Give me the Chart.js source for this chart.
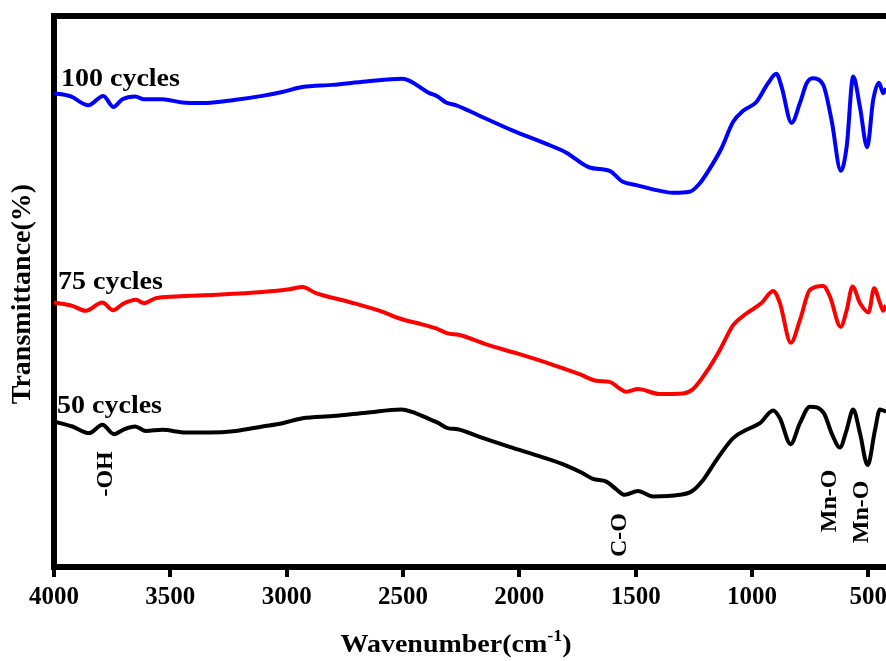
<!DOCTYPE html>
<html>
<head>
<meta charset="utf-8">
<script src="https://cdn.jsdelivr.net/npm/chart.js@4.4.0/dist/chart.umd.min.js"></script>
<style>
    body { margin: 0; background: #fff; }
    #wrap { width: 886px; height: 661px; position: relative; }
</style>
</head>
<body>
<div id="wrap"><canvas id="ftirChart"></canvas></div>
<script>
// wavenumber (cm-1) and transmittance readings, one pair of arrays per sample
const wn100 = [4000, 3928, 3852, 3788, 3745, 3706, 3651, 3613, 3535, 3449, 3363, 3218, 3105, 3019, 2933, 2804, 2659, 2503, 2386, 2351, 2315, 2271, 2171, 2028, 1884, 1798, 1698, 1612, 1555, 1497, 1411, 1339, 1268, 1225, 1167, 1131, 1081, 1038, 981, 931, 895, 873, 830, 794, 765, 740, 694, 658, 618, 593, 565, 536, 505, 479, 454, 436, 424];
const t100 = [86.0, 85.4, 83.8, 85.5, 83.5, 84.9, 85.4, 84.9, 84.9, 84.3, 84.2, 84.8, 85.5, 86.2, 87.1, 87.5, 88.1, 88.6, 86.0, 85.4, 84.3, 83.8, 81.9, 79.2, 76.8, 75.2, 72.5, 71.9, 69.9, 69.3, 68.4, 67.9, 68.1, 69.6, 73.3, 76.0, 80.8, 82.8, 84.4, 87.8, 89.5, 87.2, 80.6, 84.2, 87.8, 88.7, 87.5, 81.1, 71.9, 76.3, 89.0, 83.5, 76.2, 84.8, 87.9, 86.0, 86.9];

const wn75 = [4000, 3921, 3864, 3792, 3746, 3706, 3648, 3613, 3562, 3476, 3304, 3104, 2989, 2932, 2874, 2731, 2587, 2515, 2415, 2358, 2308, 2257, 2142, 2013, 1856, 1741, 1669, 1612, 1569, 1540, 1490, 1397, 1296, 1253, 1196, 1138, 1081, 1024, 959, 909, 880, 833, 794, 751, 694, 665, 619, 593, 568, 536, 499, 475, 450, 436, 424];
const t75 = [48.0, 47.4, 46.5, 48.0, 46.6, 47.7, 48.5, 47.9, 48.8, 49.1, 49.4, 49.9, 50.4, 50.8, 49.7, 48.1, 46.3, 45.1, 44.0, 43.3, 42.4, 42.1, 40.4, 38.8, 36.7, 35.0, 33.8, 33.6, 32.4, 31.8, 32.3, 31.4, 31.5, 32.3, 35.4, 39.4, 43.9, 46.0, 47.9, 50.1, 47.9, 40.7, 44.8, 50.3, 51.0, 49.1, 43.6, 46.6, 50.9, 47.9, 46.2, 50.6, 47.9, 46.5, 47.5];

const wn50 = [4000, 3921, 3849, 3792, 3742, 3699, 3651, 3605, 3534, 3433, 3333, 3218, 3104, 3018, 2932, 2802, 2659, 2508, 2444, 2379, 2351, 2308, 2265, 2171, 2042, 1899, 1798, 1727, 1684, 1626, 1583, 1547, 1490, 1425, 1311, 1260, 1210, 1153, 1081, 1024, 966, 909, 880, 834, 794, 751, 691, 658, 622, 593, 565, 536, 503, 471, 450, 424];
const t50 = [26.4, 25.5, 24.3, 25.8, 24.1, 25.0, 25.5, 24.7, 24.9, 24.4, 24.4, 24.7, 25.5, 26.1, 27.0, 27.4, 28.0, 28.6, 27.9, 26.7, 26.2, 25.2, 25.0, 23.6, 21.8, 19.9, 18.4, 17.0, 16.0, 15.5, 14.1, 13.1, 13.8, 12.8, 13.1, 13.7, 15.8, 19.4, 23.4, 24.9, 26.1, 28.4, 27.0, 22.3, 26.1, 29.1, 27.9, 24.3, 21.7, 24.9, 28.6, 24.3, 18.5, 24.9, 28.6, 28.2];

// axis ticks
const xTicks = [4000, 3500, 3000, 2500, 2000, 1500, 1000, 500];

// sample names and where they sit (wavenumber, transmittance at text baseline)
const seriesNames = ['100 cycles', '75 cycles', '50 cycles'];
const seriesNameWn = [3970, 3983, 3987];
const seriesNameT = [87.3, 50.5, 27.9];

// band assignments (vertical text centre)
const bandNames = ['-OH', 'C-O', 'Mn-O', 'Mn-O'];
const bandWn = [3776, 1569, 665, 527];
const bandT = [16.9, 5.8, 12.0, 10.0];

const SERIF = "'Liberation Serif', 'Times New Roman', serif";
const STRETCH = 1.12;

function toPoints(xs, ys) {
    return xs.map((x, i) => ({ x: x, y: ys[i] }));
}

// horizontal text, slightly widened like the source figure
function wideText(ctx, text, x, y, font) {
    ctx.save();
    ctx.translate(x, y);
    ctx.scale(STRETCH, 1);
    ctx.font = font;
    ctx.textAlign = 'left';
    ctx.textBaseline = 'alphabetic';
    ctx.fillText(text, 0, 0);
    ctx.restore();
}

function upText(ctx, text, x, y, font) {
    ctx.save();
    ctx.translate(x, y);
    ctx.rotate(-Math.PI / 2);
    ctx.font = font;
    ctx.textAlign = 'center';
    ctx.textBaseline = 'middle';
    ctx.fillText(text, 0, 0);
    ctx.restore();
}

const framePlugin = {
    id: 'frameAndText',
    afterDraw: function(chart) {
        const ctx = chart.ctx;
        const area = chart.chartArea;
        const xs = chart.scales.x;
        const ys = chart.scales.y;

        // top frame line
        ctx.save();
        ctx.strokeStyle = '#000';
        ctx.lineWidth = 6;
        ctx.beginPath();
        ctx.moveTo(area.left - 3, area.top);
        ctx.lineTo(area.right, area.top);
        ctx.stroke();
        ctx.restore();

        ctx.fillStyle = '#000';

        // sample labels
        seriesNames.forEach(function(name, i) {
            wideText(ctx, name, xs.getPixelForValue(seriesNameWn[i]), ys.getPixelForValue(seriesNameT[i]), 'bold 25px ' + SERIF);
        });

        // band labels
        bandNames.forEach(function(name, i) {
            upText(ctx, name, xs.getPixelForValue(bandWn[i]), ys.getPixelForValue(bandT[i]), 'bold 24px ' + SERIF);
        });

        // y title
        upText(ctx, 'Transmittance(%)', 23, 294, 'bold 28px ' + SERIF);

        // x title with superscript
        const mainFont = 'bold 25px ' + SERIF;
        const supFont = 'bold 16px ' + SERIF;
        ctx.font = mainFont;
        const w1 = ctx.measureText('Wavenumber(cm').width;
        const w3 = ctx.measureText(')').width;
        ctx.font = supFont;
        const w2 = ctx.measureText('-1').width;
        const total = (w1 + w2 + w3) * STRETCH;
        let x0 = 456 - total / 2;
        const base = 652;
        wideText(ctx, 'Wavenumber(cm', x0, base, mainFont);
        x0 += w1 * STRETCH;
        wideText(ctx, '-1', x0, base - 11, supFont);
        x0 += w2 * STRETCH;
        wideText(ctx, ')', x0, base, mainFont);
    }
};

const ctxEl = document.getElementById('ftirChart');
new Chart(ctxEl, {
    type: 'line',
    data: {
        datasets: [
            { label: seriesNames[0], data: toPoints(wn100, t100), borderColor: '#0000ff' },
            { label: seriesNames[1], data: toPoints(wn75, t75), borderColor: '#ff0000' },
            { label: seriesNames[2], data: toPoints(wn50, t50), borderColor: '#000000' }
        ]
    },
    options: {
        responsive: true,
        maintainAspectRatio: false,
        animation: false,
        layout: { padding: { top: 16, left: 0, right: 0, bottom: 0 } },
        elements: {
            line: { borderWidth: 4, cubicInterpolationMode: 'monotone', fill: false },
            point: { radius: 0 }
        },
        plugins: {
            legend: { display: false },
            tooltip: { enabled: false }
        },
        scales: {
            x: {
                type: 'linear',
                reverse: true,
                min: 424,
                max: 4000,
                afterBuildTicks: function(scale) {
                    scale.ticks = xTicks.map(v => ({ value: v }));
                },
                afterFit: function(scale) {
                    scale.height = 94;
                    scale.paddingLeft = 0;
                    scale.paddingRight = 0;
                },
                grid: {
                    drawOnChartArea: false,
                    color: '#000',
                    lineWidth: 4,
                    tickLength: 10
                },
                border: { display: true, color: '#000', width: 6 },
                ticks: {
                    color: '#000',
                    padding: 6,
                    maxRotation: 0,
                    callback: function(value) {
                        return String(value);
                    },
                    font: { family: SERIF, size: 25, weight: 'bold' }
                }
            },
            y: {
                min: 0,
                max: 100,
                afterFit: function(scale) {
                    scale.width = 54;
                },
                grid: { drawOnChartArea: false, drawTicks: false },
                border: { display: true, color: '#000', width: 6 },
                ticks: { display: false }
            }
        }
    },
    plugins: [framePlugin]
});
</script>
</body>
</html>
